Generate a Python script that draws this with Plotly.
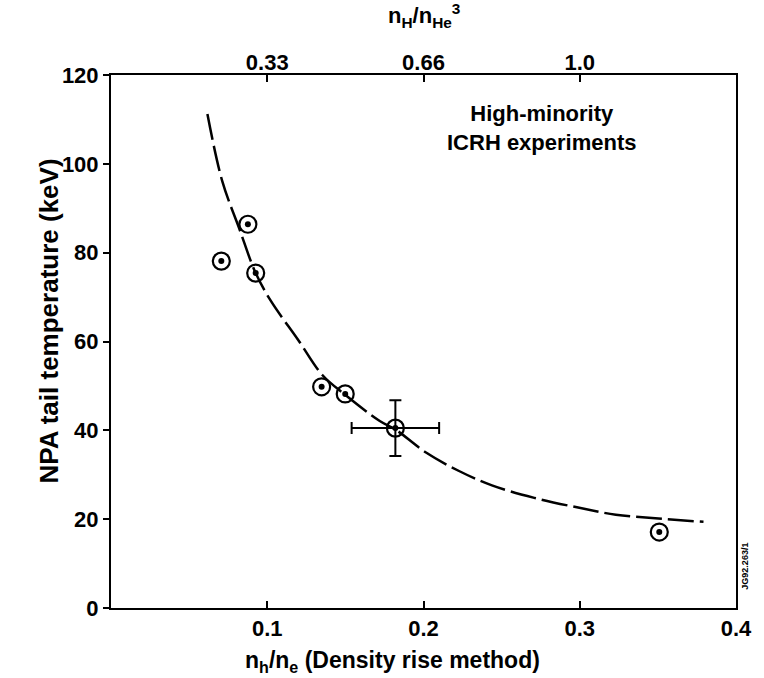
import plotly.graph_objects as go

# Measured data points (n_h/n_e, NPA tail temperature keV)
pt_x = [0.0706, 0.0876, 0.0926, 0.1348, 0.1499, 0.182, 0.3509]
pt_y = [78.1, 86.4, 75.4, 49.8, 48.2, 40.5, 17.1]

# Error bar on the representative point
err_x_val = [0.182]
err_y_val = [40.5]
err_dx = 0.028
err_dy = 6.3

# Dashed fit curve
curve_x = [0.0617, 0.0712, 0.0819, 0.0926, 0.102, 0.1197, 0.1354, 0.1499, 0.172,
           0.182, 0.2016, 0.2224, 0.2438, 0.2709, 0.3005, 0.3231, 0.3483, 0.3792]
curve_y = [111.2, 96.1, 85.6, 75.4, 69.3, 60.4, 52.4, 48.0, 42.1,
           40.2, 35.0, 30.9, 27.6, 24.8, 22.5, 21.0, 20.2, 19.4]

bottom_ticks = [0.1, 0.2, 0.3, 0.4]
bottom_labels = ["0.1", "0.2", "0.3", "0.4"]
top_ticks = [0.1, 0.2, 0.3]
top_labels = ["0.33", "0.66", "1.0"]
y_ticks = [0, 20, 40, 60, 80, 100, 120]

FONT = "Liberation Sans, Arial, sans-serif"
fnt = dict(family=FONT, size=22, color="black", weight="bold")
tfnt = dict(family=FONT, size=23, color="black", weight="bold")

fig = go.Figure()
fig.add_trace(go.Scatter(x=curve_x, y=curve_y, mode="lines",
                         line=dict(color="black", width=2.5, dash="26px,6px", shape="spline"),
                         hoverinfo="skip", showlegend=False))
fig.add_trace(go.Scatter(x=err_x_val, y=err_y_val, mode="markers",
                         marker=dict(size=1, color="rgba(0,0,0,0)"),
                         error_x=dict(type="constant", value=err_dx, thickness=2, width=6, color="black"),
                         error_y=dict(type="constant", value=err_dy, thickness=2, width=6, color="black"),
                         showlegend=False))
fig.add_trace(go.Scatter(x=pt_x, y=pt_y, mode="markers",
                         marker=dict(symbol="circle-open", size=17, color="black", line=dict(width=2.2)),
                         showlegend=False))
fig.add_trace(go.Scatter(x=pt_x, y=pt_y, mode="markers",
                         marker=dict(symbol="circle", size=6, color="black"),
                         showlegend=False))
# invisible trace for top axis
fig.add_trace(go.Scatter(x=[0.2], y=[60], xaxis="x2", mode="markers",
                         marker=dict(size=1, color="rgba(0,0,0,0)"), showlegend=False, hoverinfo="skip"))

fig.update_layout(
    width=764, height=678,
    margin=dict(l=111, r=16, t=75, b=70),
    paper_bgcolor="white", plot_bgcolor="white",
    font=fnt,
    xaxis=dict(range=[0, 0.4], tickvals=bottom_ticks, ticktext=bottom_labels,
               ticks="inside", ticklen=7, tickwidth=1.5, tickcolor="black",
               showline=True, linewidth=2, linecolor="black", mirror=True,
               showgrid=False, zeroline=False, tickfont=fnt, ticklabeloverflow="allow"),
    xaxis2=dict(range=[0, 0.4], overlaying="x", side="top", tickvals=top_ticks, ticktext=top_labels,
                ticks="inside", ticklen=7, tickwidth=1.5, tickcolor="black",
                showline=False, showgrid=False, zeroline=False, tickfont=fnt),
    yaxis=dict(range=[0, 120], tickvals=y_ticks, ticks="outside", ticklen=6, tickwidth=1.5,
               tickcolor="black", showline=True, linewidth=2, linecolor="black", mirror=True,
               showgrid=False, zeroline=False, tickfont=fnt),
    annotations=[
        dict(x=0.276, y=108, xref="x", yref="y", text="High-minority<br>ICRH experiments",
             showarrow=False, font=fnt, align="center", xanchor="center", yanchor="middle"),
        dict(x=0, y=64.5, xref="paper", yref="y", text="NPA tail temperature (keV)",
             textangle=-90, showarrow=False, font=dict(family=FONT, size=26, color="black", weight="bold"),
             xanchor="center", yanchor="middle", xshift=-62),
        dict(x=0.18, y=0, xref="x", yref="paper",
             text="n<sub>h</sub>/n<sub>e</sub> (Density rise method)",
             showarrow=False, font=tfnt, xanchor="center", yanchor="middle", yshift=-53),
        dict(x=0.2, y=1, xref="x", yref="paper",
             text="n<sub>H</sub>/n<sub>He</sub><sup>3</sup>",
             showarrow=False, font=fnt, xanchor="center", yanchor="middle", yshift=60),
        dict(x=1.014, y=0.079, xref="paper", yref="paper", text="JG92.263/1", textangle=-90,
             showarrow=False, font=dict(family=FONT, size=9, color="black", weight="bold"),
             xanchor="center", yanchor="middle"),
    ],
)

fig.write_html("out.html")
